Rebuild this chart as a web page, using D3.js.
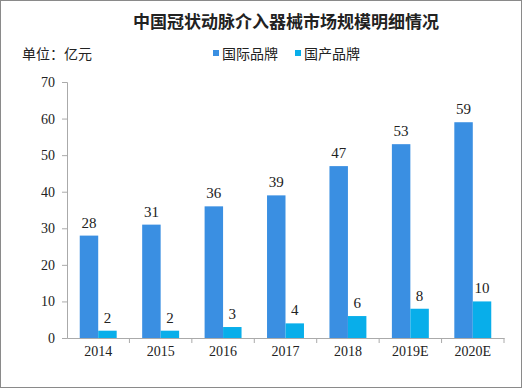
<!DOCTYPE html>
<html>
<head>
<meta charset="utf-8">
<script src="https://cdn.jsdelivr.net/npm/d3@7"></script>
<style>
  body { margin: 0; background: #fff; }
  text { font-family: "Liberation Serif", "Noto Sans CJK SC", serif; }
  .cjk { font-family: "Noto Sans CJK SC", sans-serif; }
</style>
</head>
<body>
<div id="chart"></div>
<script>
// data
var years = ["2014", "2015", "2016", "2017", "2018", "2019E", "2020E"];
var intlBrand = [28, 31, 36, 39, 47, 53, 59];
var homeBrand = [2, 2, 3, 4, 6, 8, 10];
var seriesNames = ["国际品牌", "国产品牌"];
var yTicks = [0, 10, 20, 30, 40, 50, 60, 70];

var width = 522, height = 389;
var margin = {top: 82, right: 18, bottom: 51, left: 67};
var colors = ["#3a8fe2", "#08aeea"];

var svg = d3.select("#chart").append("svg")
    .attr("width", width)
    .attr("height", height);

// frame
svg.append("rect")
    .attr("x", 0.5).attr("y", 0.5)
    .attr("width", width - 1).attr("height", height - 2)
    .attr("fill", "none")
    .attr("stroke", "#8a8a8a");

var x = d3.scaleBand()
    .domain(years)
    .range([margin.left, width - margin.right]);

var x1 = d3.scaleBand()
    .domain([0, 1])
    .range([0, x.bandwidth()])
    .paddingOuter(0.69);

var y = d3.scaleLinear()
    .domain([0, 70])
    .range([height - margin.bottom, margin.top]);

// title
svg.append("text")
    .attr("class", "cjk")
    .attr("x", 286).attr("y", 28)
    .attr("text-anchor", "middle")
    .attr("font-size", 17)
    .attr("font-weight", "bold")
    .attr("fill", "#222")
    .text("中国冠状动脉介入器械市场规模明细情况");

svg.append("text")
    .attr("class", "cjk")
    .attr("x", 22).attr("y", 59)
    .attr("font-size", 14)
    .attr("fill", "#222")
    .text("单位：亿元");

// legend
var legend = svg.append("g");
var legendX = [213, 295];
seriesNames.forEach(function(name, i) {
    legend.append("rect")
        .attr("x", legendX[i]).attr("y", 50)
        .attr("width", 6).attr("height", 6)
        .attr("fill", colors[i]);
    legend.append("text")
        .attr("class", "cjk")
        .attr("x", legendX[i] + 9).attr("y", 59)
        .attr("font-size", 14)
        .attr("fill", "#222")
        .text(name);
});

// y axis
var yAxis = svg.append("g")
    .attr("transform", "translate(" + margin.left + ",0)")
    .call(d3.axisLeft(y).tickValues(yTicks).tickSize(5).tickPadding(7));
yAxis.select(".domain").attr("stroke", "#aaa");
yAxis.selectAll(".tick line").attr("stroke", "#aaa");
yAxis.selectAll(".tick text")
    .attr("font-size", 14)
    .attr("font-family", "Liberation Serif, serif")
    .attr("fill", "#222");

// x axis
var xAxis = svg.append("g")
    .attr("transform", "translate(0," + (height - margin.bottom) + ")")
    .call(d3.axisBottom(x).tickSize(0).tickPadding(8));
xAxis.select(".domain").attr("stroke", "#aaa");
xAxis.selectAll(".tick text")
    .attr("font-size", 14)
    .attr("font-family", "Liberation Serif, serif")
    .attr("fill", "#222");
// category boundary ticks
xAxis.selectAll(".sep")
    .data(years)
    .enter().append("line")
    .attr("x1", function(d) { return x(d) + x.bandwidth(); })
    .attr("x2", function(d) { return x(d) + x.bandwidth(); })
    .attr("y1", 0).attr("y2", 5)
    .attr("stroke", "#aaa");

// bars
var series = [intlBrand, homeBrand];
series.forEach(function(vals, s) {
    svg.append("g").selectAll("rect")
        .data(vals)
        .enter().append("rect")
        .attr("x", function(d, i) { return x(years[i]) + x1(s); })
        .attr("y", function(d) { return y(d); })
        .attr("width", x1.bandwidth())
        .attr("height", function(d) { return y(0) - y(d); })
        .attr("fill", colors[s]);

    svg.append("g").selectAll("text")
        .data(vals)
        .enter().append("text")
        .attr("x", function(d, i) { return x(years[i]) + x1(s) + x1.bandwidth() / 2; })
        .attr("y", function(d) { return y(d) - 8; })
        .attr("text-anchor", "middle")
        .attr("font-size", 15)
        .attr("fill", "#222")
        .text(function(d) { return d; });
});
</script>
</body>
</html>
